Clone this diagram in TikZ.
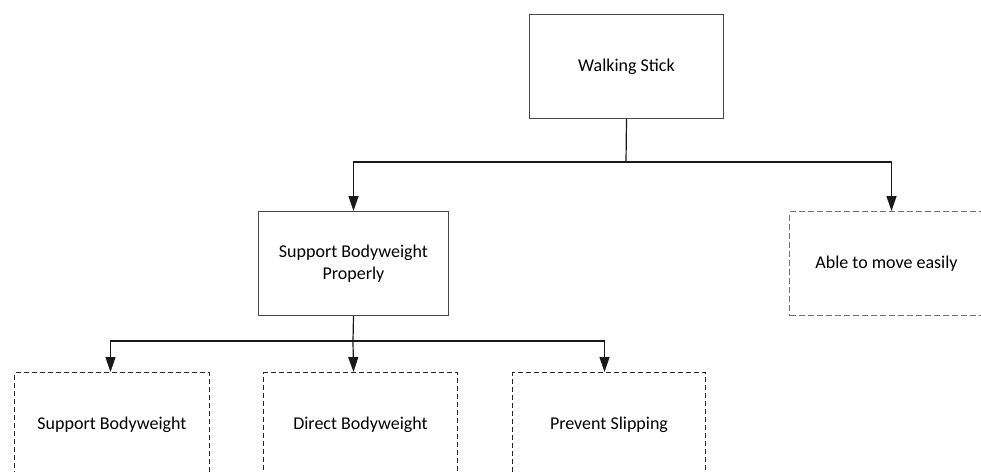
\documentclass[tikz,border=0pt]{standalone}
\usepackage{fontspec}
\setmainfont{Carlito}
\usetikzlibrary{arrows.meta}
\begin{document}
\begin{tikzpicture}[x=1pt,y=-1pt,
  box/.style={line width=1pt, minimum height=104pt, inner sep=0pt,
    align=center, font=\fontsize{18}{22}\selectfont, anchor=north west},
  solidbox/.style={box, draw=black!72},
  dashbox/.style={box, draw=black!55, dash pattern=on 6pt off 3pt},
  dashboxdark/.style={box, draw=black!85, dash pattern=on 5pt off 3pt},
  conn/.style={line width=1.2pt, draw=black!90},
  arr/.style={conn, -{Triangle[length=15pt,width=10pt]}}]
\useasboundingbox (0,0) rectangle (981,471);
\begin{scope}
\clip (0,0) rectangle (981,471);
\node[solidbox, minimum width=194pt] (ws) at (529,14) {Walking Stick};
\node[solidbox, minimum width=190pt] (sbp) at (258,211) {Support Bodyweight\\Properly};
\node[dashbox, minimum width=194pt] (ab) at (789,211) {Able to move easily};
\node[dashboxdark, minimum width=195pt] (sb) at (14,372) {Support Bodyweight};
\node[dashboxdark, minimum width=194pt] (db) at (263,372) {Direct Bodyweight};
\node[dashboxdark, minimum width=193pt] (ps) at (512,372) {Prevent Slipping};
\coordinate (j1) at (626,162);
\coordinate (j2) at (353,341);
\draw[conn] (ws.south) -- (j1);
\draw[arr] (j1) -| (sbp.north);
\draw[arr] (j1) -| ([xshift=5pt]ab.north);
\draw[conn] (sbp.south) -- (j2);
\draw[arr] (j2) -| ([xshift=-1.5pt]sb.north);
\draw[arr] (j2) -- ([xshift=-7pt]db.north);
\draw[arr] (j2) -| ([xshift=-4.5pt]ps.north);
\end{scope}
\end{tikzpicture}
\end{document}
